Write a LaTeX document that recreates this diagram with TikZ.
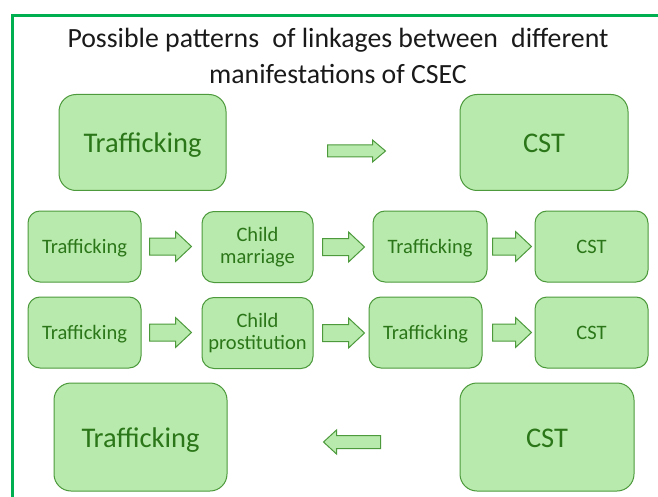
\documentclass[tikz,border=0pt]{standalone}
\usepackage{fontspec}
\setmainfont{Carlito}
\usetikzlibrary{calc}
\definecolor{frame}{HTML}{00B050}
\definecolor{boxfill}{HTML}{B9EAAD}
\definecolor{boxline}{HTML}{4C9A3C}
\definecolor{boxtext}{HTML}{2A7618}
\definecolor{titletext}{HTML}{1A1A1A}
\tikzset{
  box/.style={draw=boxline, fill=boxfill, line width=1pt, rounded corners=12pt,
    text=boxtext, align=center, inner sep=0pt},
  bigbox/.style={box, rounded corners=17pt, font=\fontsize{28.5}{30}\selectfont,
    text height=20pt, text depth=0pt},
  smallbox/.style={box, minimum width=113pt, minimum height=71pt, font=\fontsize{20.5}{23}\selectfont},
  oneline/.style={text height=14pt, text depth=0pt},
  arr/.style={draw=boxline, fill=boxfill, line width=1pt, line join=miter},
}
\newcommand\blkarrow[5]{\draw[arr] let \p1=(#1), \p2=(#2), \n1={#5*sign(\x2-\x1)} in
  (\x1,\y1+#3) -- (\x2-\n1,\y1+#3) -- (\x2-\n1,\y1+#4) -- (\x2,\y1) --
  (\x2-\n1,\y1-#4) -- (\x2-\n1,\y1-#3) -- (\x1,\y1-#3) -- cycle;}
\begin{document}
\begin{tikzpicture}[x=1pt,y=-1pt]
\useasboundingbox (0,0) rectangle (658,497);
\fill[white] (0,0) rectangle (658,497);
% frame
\draw[frame, line width=3pt] (12,497) -- (12,16) -- (658,16);
% title
\node[text=titletext, font=\fontsize{27.8}{36}\selectfont, align=center] (title) at (338,56)
  {Possible patterns\hspace{0.25em} of linkages between\hspace{0.25em} different\\manifestations of CSEC};
% row 1
\node[bigbox, minimum width=167pt, minimum height=96pt] (r1a) at (142.5,142.5) {Trafficking};
\node[bigbox, minimum width=168pt, minimum height=96pt] (r1b) at (544,142.5) {CST};
\blkarrow{$(r1a.east)+(101,8.5)$}{$(r1b.west)+(-74,8.5)$}{6pt}{11pt}{13pt}
% row 2
\node[smallbox, oneline] (r2a) at (84.5,246.5) {Trafficking};
\node[smallbox, minimum width=111pt] (r2b) at (257.5,247) {Child\\[-1pt]marriage};
\node[smallbox, oneline, minimum width=114pt] (r2c) at (430,246.5) {Trafficking};
\node[smallbox, oneline] (r2d) at (591.5,246.5) {CST};
\blkarrow{$(r2a.east)+(8,0)$}{$(r2b.west)+(-10,0)$}{8.5pt}{15pt}{16pt}
\blkarrow{$(r2b.east)+(9,0)$}{$(r2c.west)+(-8,0)$}{8.5pt}{15pt}{16pt}
\blkarrow{$(r2c.east)+(5,0)$}{$(r2d.west)+(-3,0)$}{8.5pt}{15pt}{16pt}
% row 3
\node[smallbox, oneline] (r3a) at (84.5,332.5) {Trafficking};
\node[smallbox, minimum width=111pt] (r3b) at (257.5,333) {Child\\[-1pt]prostitution};
\node[smallbox, oneline] (r3c) at (425.5,332.5) {Trafficking};
\node[smallbox, oneline] (r3d) at (591.5,332.5) {CST};
\blkarrow{$(r3a.east)+(8,0)$}{$(r3b.west)+(-10,0)$}{8.5pt}{15pt}{16pt}
\blkarrow{$(r3b.east)+(9,0)$}{$(r3c.west)+(-4,0)$}{8.5pt}{15pt}{16pt}
\blkarrow{$(r3c.east)+(10,0)$}{$(r3d.west)+(-3,0)$}{8.5pt}{15pt}{16pt}
% row 4
\node[bigbox, minimum width=173pt, minimum height=108pt] (r4a) at (140.5,437) {Trafficking};
\node[bigbox, minimum width=174pt, minimum height=108pt] (r4b) at (547,437) {CST};
\blkarrow{$(r4b.west)+(-79,5)$}{$(r4a.east)+(96,5)$}{6.5pt}{12pt}{13pt}
\end{tikzpicture}
\end{document}
